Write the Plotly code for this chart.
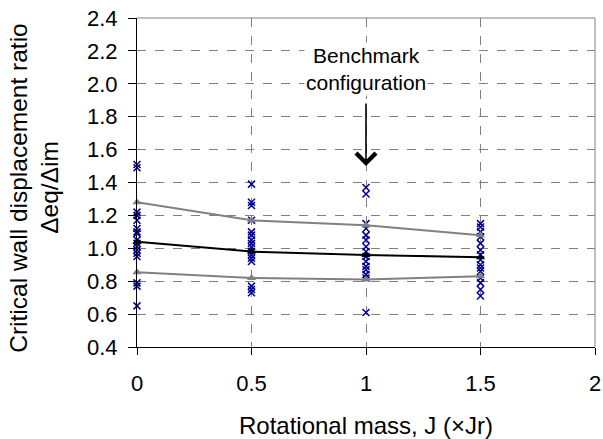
import plotly.graph_objects as go

# ---- data ----
j_levels = [0, 0.5, 1, 1.5]
ratios_j0 = [1.51, 1.49, 1.22, 1.20, 1.17, 1.12, 1.10, 1.09, 1.05, 1.03, 1.01, 0.99, 0.97, 0.95, 0.79, 0.77, 0.65]
ratios_j05 = [1.39, 1.28, 1.26, 1.17, 1.10, 1.08, 1.05, 1.03, 1.01, 0.98, 0.96, 0.94, 0.92, 0.77, 0.75, 0.73]
ratios_j1 = [1.37, 1.33, 1.15, 1.12, 1.08, 1.05, 1.01, 0.98, 0.95, 0.92, 0.89, 0.87, 0.84, 0.82, 0.61]
ratios_j15 = [1.15, 1.13, 1.10, 1.07, 1.03, 0.99, 0.96, 0.93, 0.90, 0.88, 0.86, 0.82, 0.79, 0.75, 0.71]
mean_vals = [1.04, 0.98, 0.96, 0.945]
upper_vals = [1.28, 1.17, 1.14, 1.08]
lower_vals = [0.855, 0.82, 0.81, 0.83]
x_ticks = [0, 0.5, 1, 1.5, 2]
y_ticks = [0.4, 0.6, 0.8, 1.0, 1.2, 1.4, 1.6, 1.8, 2.0, 2.2, 2.4]
y_tick_text = ["%.1f" % v for v in y_ticks]
x_tick_text = ["0", "0.5", "1", "1.5", "2"]

FONT = "Liberation Sans, Arial, sans-serif"
BLUE = "#000099"
GREY = "#808080"

fig = go.Figure()

groups = [ratios_j0, ratios_j05, ratios_j1, ratios_j15]
xs, ys = [], []
for jv, g in zip(j_levels, groups):
    xs += [jv] * len(g)
    ys += g
fig.add_trace(go.Scatter(
    x=xs, y=ys, mode="markers",
    marker=dict(symbol="x-thin", size=7, line=dict(width=1.5, color=BLUE), color=BLUE),
    showlegend=False, hoverinfo="skip", cliponaxis=False))

for vals, col in [(upper_vals, GREY), (lower_vals, GREY), (mean_vals, "black")]:
    fig.add_trace(go.Scatter(
        x=j_levels, y=vals, mode="lines+markers",
        line=dict(color=col, width=2),
        marker=dict(symbol="triangle-up", size=8, color=col),
        showlegend=False, hoverinfo="skip", cliponaxis=False))

L, T = 137, 18
PW = 458

fig.update_layout(
    width=603, height=439,
    margin=dict(l=L, r=8, t=T, b=92, autoexpand=False),
    paper_bgcolor="white", plot_bgcolor="white",
    font=dict(family=FONT, size=22, color="black"),
    xaxis=dict(
        range=[0, 2], tickvals=x_ticks, ticktext=x_tick_text,
        showgrid=True, gridcolor=GREY, griddash="dash", gridwidth=1,
        showline=True, linecolor="black", linewidth=1,
        ticks="outside", ticklen=7, tickcolor="black",
        ticklabelstandoff=10, automargin=False,
        zeroline=False,
        title=dict(text="Rotational mass, J (×Jr)", standoff=26, font=dict(size=24)),
    ),
    yaxis=dict(
        range=[0.4, 2.4], tickvals=y_ticks, ticktext=y_tick_text,
        showgrid=True, gridcolor=GREY, griddash="dash", gridwidth=1,
        showline=True, linecolor="black", linewidth=1,
        ticks="outside", ticklen=8, tickcolor="black",
        ticklabelstandoff=6, automargin=False,
        zeroline=False,
    ),
    shapes=[
        dict(type="line", xref="paper", yref="paper", x0=0, x1=1, y0=1, y1=1,
             line=dict(color=GREY, width=1)),
        dict(type="line", xref="paper", yref="paper", x0=1, x1=1, y0=0, y1=1,
             line=dict(color=GREY, width=1)),
    ],
    annotations=[
        dict(text="Critical wall displacement ratio", xref="paper", yref="paper",
             x=(19 - L) / PW, y=0.484, textangle=-90, showarrow=False,
             xanchor="center", yanchor="middle", font=dict(size=24.5)),
        dict(text="Δeq/Δim", xref="paper", yref="paper",
             x=(50 - L) / PW, y=0.484, textangle=-90, showarrow=False,
             xanchor="center", yanchor="middle", font=dict(size=24.5)),
        dict(text="Benchmark<br>configuration", xref="x", yref="y", x=1, y=2.09,
             showarrow=False, font=dict(size=21), bgcolor="white"),
        dict(text="", xref="x", yref="y", x=1, y=1.50, ax=1, ay=1.89,
             axref="x", ayref="y", showarrow=True, arrowhead=4, arrowsize=2.4,
             arrowwidth=1.6, arrowcolor="black"),
    ],
)

fig.write_html(
    "out.html",
    config={"displayModeBar": False},
    post_script="document.documentElement.style.margin='0';document.body.style.margin='0';"
                "document.body.style.overflow='hidden';",
)
